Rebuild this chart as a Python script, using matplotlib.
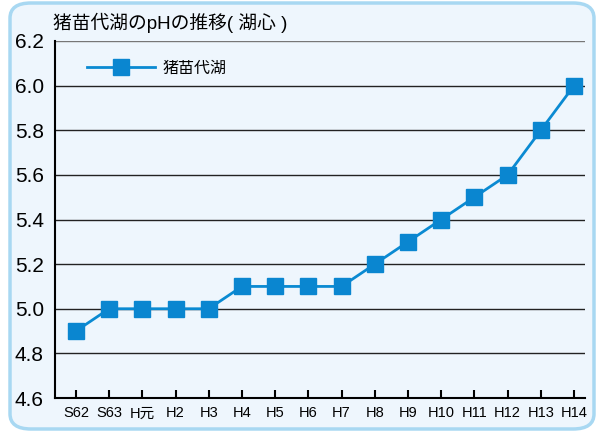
import matplotlib.pyplot as plt
from matplotlib.patches import FancyBboxPatch

years = ["S62", "S63", "H元", "H2", "H3", "H4", "H5", "H6", "H7",
         "H8", "H9", "H10", "H11", "H12", "H13", "H14"]
ph = [4.9, 5.0, 5.0, 5.0, 5.0, 5.1, 5.1, 5.1, 5.1,
      5.2, 5.3, 5.4, 5.5, 5.6, 5.8, 6.0]
yticks = [4.6, 4.8, 5.0, 5.2, 5.4, 5.6, 5.8, 6.0, 6.2]

plt.rcParams["font.family"] = ["Liberation Sans", "Noto Sans CJK JP", "DejaVu Sans"]

fig = plt.figure(figsize=(6, 4.32), dpi=100)
fig.patch.set_facecolor("white")

# rounded panel behind everything
panel = FancyBboxPatch((10 / 600, 3 / 432), 584 / 600, 426 / 432,
                       boxstyle="round,pad=0,rounding_size=0.035",
                       transform=fig.transFigure, facecolor="#EEF6FD",
                       edgecolor="#A8D8F2", linewidth=2.5, zorder=-5)
fig.patches.append(panel)

ax = fig.add_axes([55 / 600, 34 / 432, 530 / 600, 357 / 432])
ax.set_zorder(2)
ax.set_facecolor("none")

x = list(range(len(years)))
ax.plot(x, ph, color="#0A8AD2", linewidth=2, marker="s", markersize=11,
        markerfacecolor="#0A86D0", markeredgecolor="#0A86D0",
        label="猪苗代湖", zorder=3)

ax.set_xlim(-0.63, 15.33)
ax.set_ylim(4.6, 6.2)
ax.set_yticks(yticks)
ax.set_yticklabels([f"{v:.1f}" for v in yticks], fontsize=15)
ax.set_xticks(x)
ax.set_xticklabels(years, fontsize=10.5)
ax.tick_params(axis="x", direction="in", length=6, width=1.5, pad=6)
ax.tick_params(axis="y", length=0, pad=8)

for v in yticks[1:]:
    ax.axhline(v, color="#222222" if v < 6.2 else "#777777", linewidth=1, zorder=1)

ax.spines["top"].set_visible(False)
ax.spines["right"].set_visible(False)
ax.spines["left"].set_linewidth(1.5)
ax.spines["bottom"].set_linewidth(1.5)

ax.legend(loc="center left", bbox_to_anchor=(0.06, 0.924), frameon=False,
          prop={"family": "Noto Sans CJK JP", "size": 11.5},
          handlelength=4.3, handletextpad=0.45, borderpad=0, borderaxespad=0)

fig.text(53 / 600, 1 - 23 / 432, "猪苗代湖のpHの推移( 湖心 )", fontsize=13.5,
         family=["Liberation Sans", "Noto Sans CJK JP"], va="center", ha="left")

fig.savefig("out.png", dpi=100)
